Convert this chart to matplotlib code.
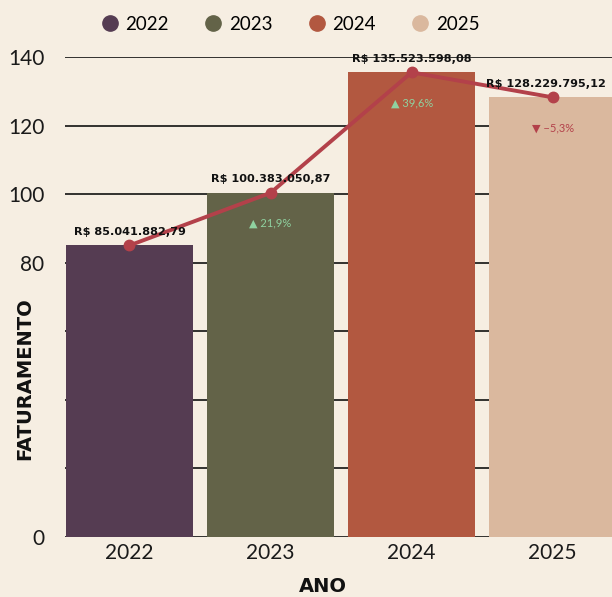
import matplotlib.pyplot as plt
import numpy as np
from matplotlib.lines import Line2D

# faturamento anual (R$) e variacao sobre o ano anterior
anos = ['2022', '2023', '2024', '2025']
faturamento = [85041882.79, 100383050.87, 135523598.08, 128229795.12]
variacao = [None, 21.9, 39.6, -5.3]
cores = ['#553C52', '#636348', '#B25840', '#DAB89E']

fundo = '#F6EEE2'
cor_linha = '#B3414A'
cor_sobe = '#8FD2A0'
cor_desce = '#B3414A'

plt.rcParams['font.family'] = ['Lato', 'DejaVu Sans']
negrito = dict(family='DejaVu Sans', fontweight='bold', color='#111111')

def brl(v):
    # formato brasileiro: ponto no milhar, virgula no decimal
    s = f'{v:,.2f}'
    return 'R$ ' + s.replace(',', 'X').replace('.', ',').replace('X', '.')

mi = np.array(faturamento) / 1e6
x = np.arange(len(anos))

fig = plt.figure(figsize=(6.12, 5.97), dpi=100, facecolor=fundo)
ax = fig.add_axes([65 / 612, 1 - 537 / 597, 1 - 65 / 612, 480 / 597])
ax.set_facecolor(fundo)

ax.bar(x, mi, width=0.9, color=cores, zorder=2)
ax.plot(x, mi, color=cor_linha, lw=2.8, marker='o', markersize=7.5, zorder=4)

for i, v in enumerate(faturamento):
    # o ultimo rotulo encosta na borda direita, entao puxa um pouco para a esquerda
    dx = -5 if i == len(anos) - 1 else 0
    ax.annotate(brl(v), (x[i], mi[i]), xytext=(dx, 6), textcoords='offset points',
                ha='center', va='bottom', fontsize=8.1, zorder=5, **negrito)
    p = variacao[i]
    if p is None:
        continue
    seta = '\u25B2' if p > 0 else '\u25BC'
    cor = cor_sobe if p > 0 else cor_desce
    txt = f'{p:.1f}%'.replace('.', ',').replace('-', '\u2212')
    ax.annotate(seta + ' ' + txt, (x[i], mi[i]), xytext=(0, -22),
                textcoords='offset points', ha='center', va='center',
                fontsize=8, color=cor, zorder=5)

ax.set_xlim(-0.457, 3.42)
ax.set_ylim(0, 140)
yt = [0, 20, 40, 60, 80, 100, 120, 140]
ax.set_yticks(yt)
ax.set_yticklabels([str(t) if t == 0 or t >= 80 else '' for t in yt])
ax.yaxis.grid(True, color='#111111', lw=1.2, zorder=0)
ax.set_axisbelow(True)
ax.set_xticks(x)
ax.set_xticklabels(anos)
ax.tick_params(axis='both', length=0, labelsize=15, colors='#1A1A1A')
ax.tick_params(axis='y', pad=15)
ax.tick_params(axis='x', pad=4)
for s in ax.spines.values():
    s.set_visible(False)

ax.set_ylabel('FATURAMENTO', fontsize=14, **negrito)
ax.yaxis.set_label_coords(-0.057, 0.33)
fig.text(323 / 612, 1 - 587 / 597, 'ANO', ha='center', va='center', fontsize=14, **negrito)

handles = [Line2D([], [], ls='none', marker='o', markersize=11, color=c) for c in cores]
fig.legend(handles, anos, loc='center', bbox_to_anchor=(290 / 612, 1 - 24 / 597), ncol=4,
           frameon=False, fontsize=13.5, handletextpad=0.35, columnspacing=1.85,
           handlelength=1.0)

fig.savefig('out.png', dpi=100, facecolor=fundo)
